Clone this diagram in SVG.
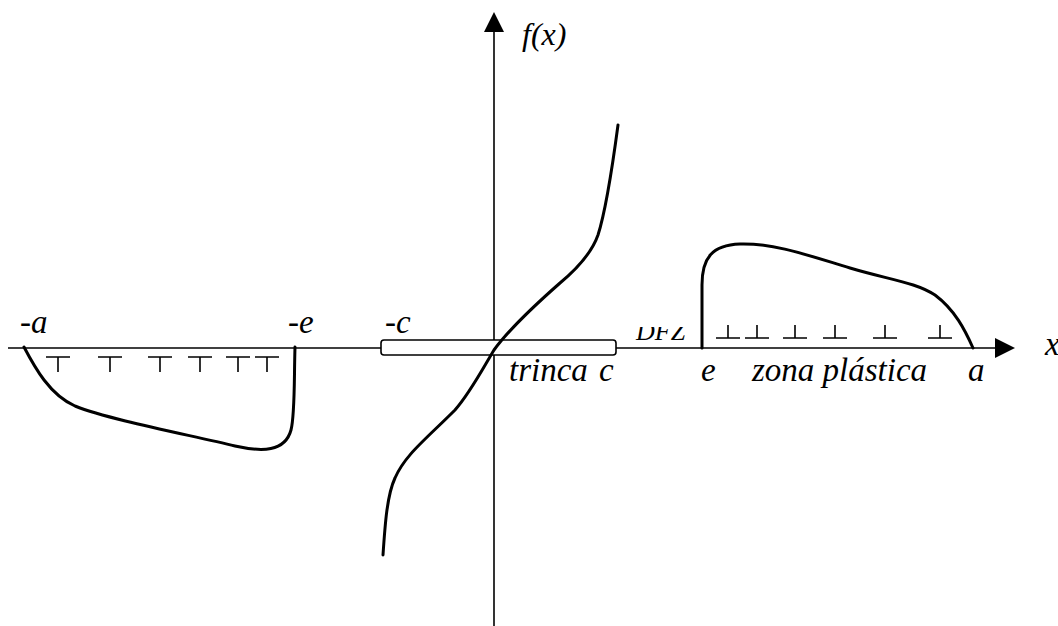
<svg xmlns="http://www.w3.org/2000/svg" width="1058" height="626" viewBox="0 0 1058 626">
<style>
.axis{stroke:#000;stroke-width:1.6;fill:none}
.curve{stroke:#000;stroke-width:3;fill:none;stroke-linejoin:round;stroke-linecap:round}
.disl{stroke:#000;stroke-width:1.6;fill:none}
.lbl{font-family:"Liberation Serif","Times New Roman",serif;font-style:italic;font-size:33px;fill:#000}
</style>
<defs>
<marker id="arr" viewBox="0 0 20 20" markerWidth="20" markerHeight="20" refX="2" refY="10" orient="auto" markerUnits="userSpaceOnUse">
<path d="M0,0 L20,10 L0,20 Z" fill="#000"/>
</marker>
<clipPath id="dfzclip"><rect x="600" y="327" width="120" height="30"/></clipPath>
<g id="dT"><path d="M-12,0 H12 M0,0 V15"/></g>
<g id="dU"><path d="M-12,0 H12 M0,0 V-13"/></g>
</defs>
<rect width="1058" height="626" fill="#fff"/>
<g id="connectors">
<line class="axis" x1="8" y1="348" x2="997" y2="348" marker-end="url(#arr)"/>
<line class="axis" x1="494" y1="626" x2="494" y2="30" marker-end="url(#arr)"/>
</g>
<g id="crack">
<rect x="381" y="340" width="235" height="15" rx="3" fill="#fff" stroke="#000" stroke-width="1.6"/>
</g>
<g id="central-curve">
<path class="curve" d="M383,555 C385,525 387,495 395,478 C405,455 425,440 455,410 C470,393 482,370 494,350 C510,328 535,305 560,283 C578,268 592,252 598,235 C606,210 612,170 618,125"/>
</g>
<g id="left-zone">
<path class="curve" d="M24,347 C35,368 50,395 75,406 C110,420 190,435 235,446 C262,452 285,452 291,430 C295,415 294,380 295,347"/>
<g class="disl">
<use href="#dT" x="58" y="357"/>
<use href="#dT" x="110" y="357"/>
<use href="#dT" x="160" y="357"/>
<use href="#dT" x="200" y="357"/>
<use href="#dT" x="238" y="357"/>
<use href="#dT" x="267" y="357"/>
</g>
</g>
<g id="right-zone">
<path class="curve" d="M702,348 L702,285 C702,258 712,245 740,244 C775,243 810,256 850,268 C890,280 915,282 935,295 C955,310 965,330 973,348"/>
<g class="disl">
<use href="#dU" x="728" y="338"/>
<use href="#dU" x="757" y="338"/>
<use href="#dU" x="795" y="338"/>
<use href="#dU" x="835" y="338"/>
<use href="#dU" x="885" y="338"/>
<use href="#dU" x="940" y="338"/>
</g>
</g>
<g id="labels">
<text class="lbl" x="522" y="45" style="font-size:32px">f(x)</text>
<text class="lbl" x="20" y="333">-a</text>
<text class="lbl" x="288" y="333">-e</text>
<text class="lbl" x="385" y="333">-c</text>
<text class="lbl" x="509" y="381">trinca</text>
<text class="lbl" x="599" y="381">c</text>
<text class="lbl" x="636" y="340" style="font-size:26px" clip-path="url(#dfzclip)">DFZ</text>
<text class="lbl" x="701" y="381">e</text>
<text class="lbl" x="752" y="381">zona plástica</text>
<text class="lbl" x="968" y="381">a</text>
<text class="lbl" x="1045" y="355">x</text>
</g>
</svg>
